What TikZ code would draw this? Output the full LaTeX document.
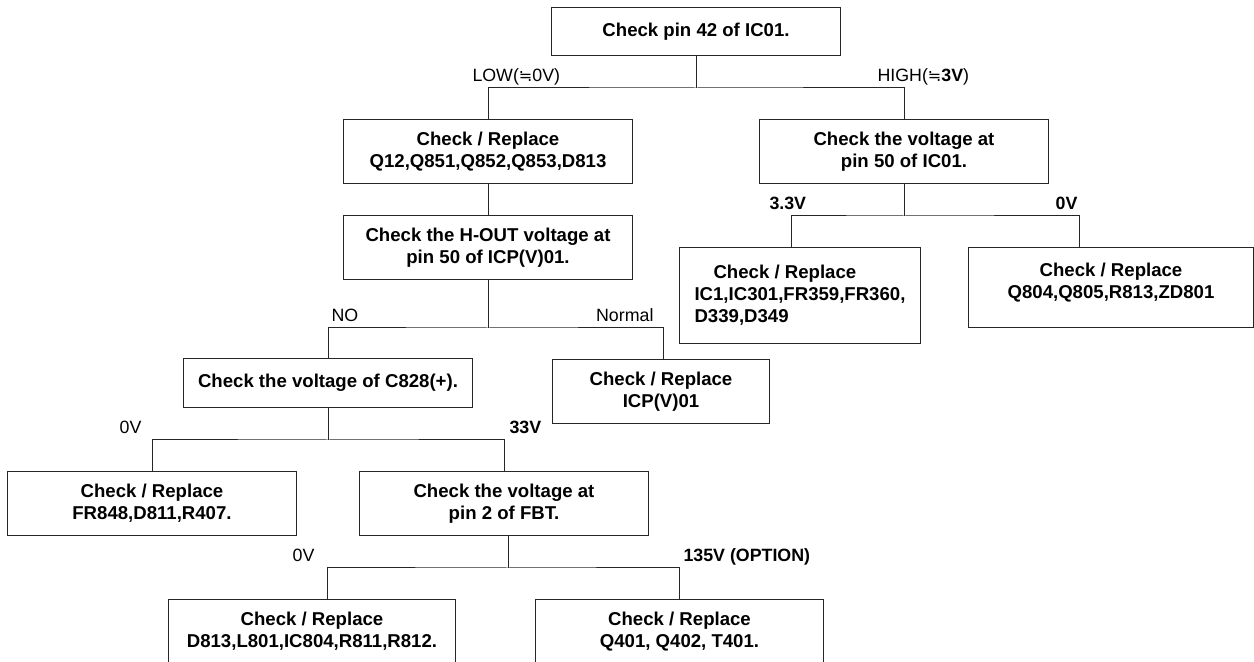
\documentclass[tikz,border=0pt]{standalone}
\usepackage{fontspec}
\setmainfont{Liberation Sans}
\newfontfamily\symfont{DejaVu Sans}
\usepackage{tikz}

\newcommand{\approxeq}{{\symfont\fontsize{8}{10}\selectfont ≒}}

\begin{document}
\begin{tikzpicture}[x=0.5pt, y=-0.5pt,
				line width=0.5pt,
				box/.style={draw=black!85, inner sep=0pt, align=center, anchor=north west,
					font=\fontsize{9.3}{11}\selectfont\bfseries},
				lbl/.style={inner sep=0pt, font=\fontsize{8.9}{10}\selectfont},
				bold lbl/.style={lbl, font=\fontsize{8.9}{10}\selectfont\bfseries},
				wire/.style={draw=black!85}]

				\useasboundingbox (0,0) rectangle (1254,662);
				\clip (0,0) rectangle (1254,662);

				% check boxes
				\node[box, minimum width=144.5pt, minimum height=24pt] (pin42) at (551,7) {Check pin 42 of IC01.};
				\node[box, minimum width=144.5pt, minimum height=32pt] (low) at (343,119) {Check / Replace\\Q12,Q851,Q852,Q853,D813};
				\node[box, minimum width=144.5pt, minimum height=32pt] (high) at (759,119) {Check the voltage at\\pin 50 of IC01.};
				\node[box, align=left, minimum width=120.5pt, minimum height=48pt] (ic1) at (679,247) {\hspace{9.5pt}Check / Replace\\IC1,IC301,FR359,FR360,\\D339,D349};
				\node[box, minimum width=142.5pt, minimum height=40pt] (q804) at (968,247) {Check / Replace\\Q804,Q805,R813,ZD801\\[-4pt]};
				\node[box, minimum width=144.5pt, minimum height=32pt] (hout) at (343,215) {Check the H-OUT voltage at\\pin 50 of ICP(V)01.};
				\node[box, minimum width=144.5pt, minimum height=24.5pt] (c828) at (183,358) {Check the voltage of C828(+).};
				\node[box, minimum width=108.5pt, minimum height=32pt] (icp) at (552,359) {Check / Replace\\ICP(V)01};
				\node[box, minimum width=144.5pt, minimum height=32pt] (fr848) at (7,471) {Check / Replace\\FR848,D811,R407.};
				\node[box, minimum width=144.5pt, minimum height=32pt] (fbt) at (359,471) {Check the voltage at\\pin 2 of FBT.};
				\node[box, minimum width=143.5pt, minimum height=32pt] (d813) at (168,599) {Check / Replace\\D813,L801,IC804,R811,R812.};
				\node[box, minimum width=144pt, minimum height=32pt] (q401) at (535,599) {Check / Replace\\Q401, Q402, T401.};

				% forks
				\draw[wire] (pin42.south) -- ++(0,32) coordinate (f1);
				\draw[wire] (low.north) |- (f1) -| (high.north);
				\draw[wire] (high.south) -- ++(0,32) coordinate (f2);
				\draw[wire] ([xshift=-4.25pt]ic1.north) |- (f2) -| ([xshift=-15.75pt]q804.north);
				\draw[wire] (low.south) -- (hout.north);
				\draw[wire] (hout.south) -- ++(0,48) coordinate (f4);
				\draw[wire] (c828.north) |- (f4) -| ([xshift=1.25pt]icp.north);
				\draw[wire] (c828.south) -- ++(0,32) coordinate (f5);
				\draw[wire] (fr848.north) |- (f5) -| (fbt.north);
				\draw[wire] ([xshift=2pt]fbt.south) -- ++(0,32) coordinate (f6);
				\draw[wire] ([xshift=7.75pt]d813.north) |- (f6) -| (q401.north);

				% branch labels
				\node[lbl, anchor=base west] (lLow) at (472,82) {LOW(\approxeq0V)};
				\node[lbl, anchor=base west] (lHigh) at (877,82) {HIGH(\approxeq\textbf{3V})};
				\node[bold lbl, anchor=base west] (l33) at (769,210) {3.3V};
				\node[bold lbl, anchor=base east] (l0a) at (1078,210) {0V};
				\node[lbl, anchor=base west] (lNo) at (331,322) {NO};
				\node[lbl, anchor=base east] (lNormal) at (654,322) {Normal};
				\node[lbl, anchor=base east] (l0b) at (142,434) {0V};
				\node[bold lbl, anchor=base west] (l33v) at (509,434) {33V};
				\node[lbl, anchor=base east] (l0c) at (315,562) {0V};
				\node[bold lbl, anchor=base west] (l135) at (683,562) {135V (OPTION)};
\end{tikzpicture}
\end{document}
